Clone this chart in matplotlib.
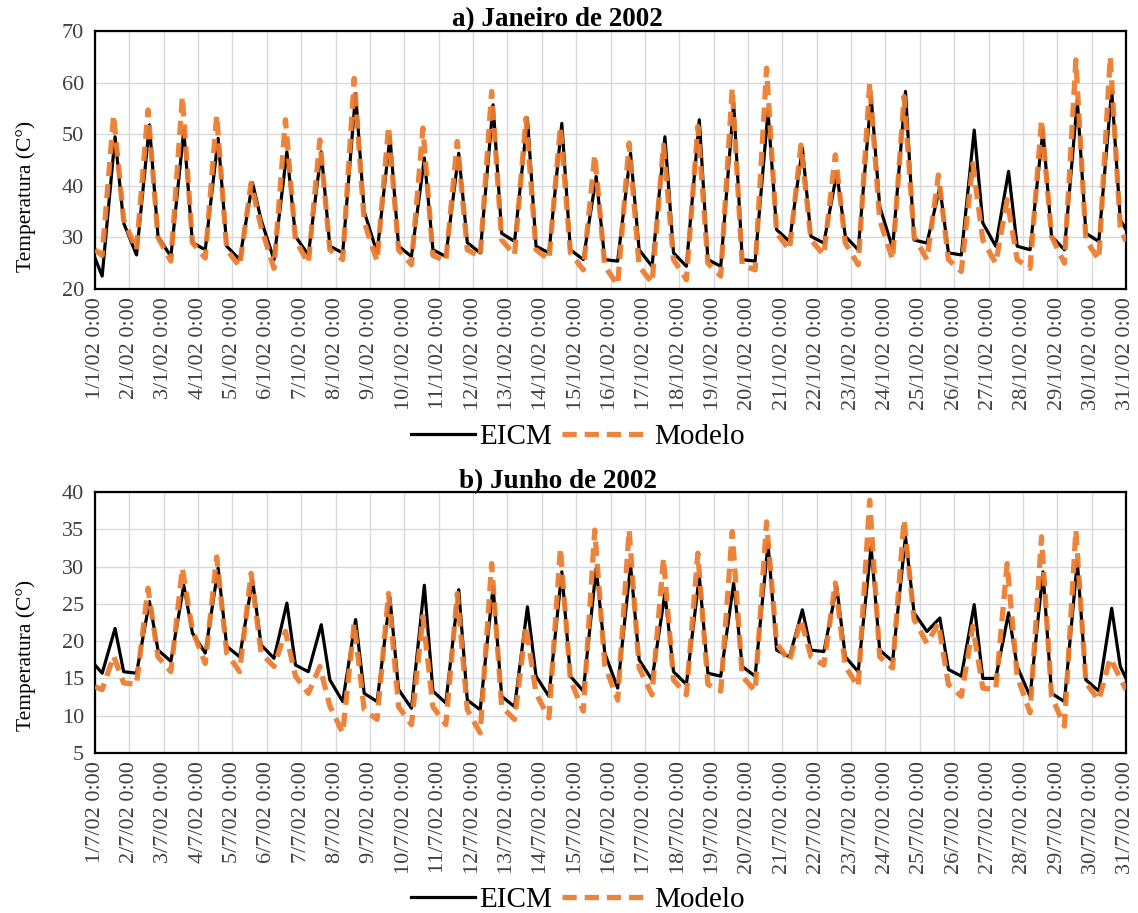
import matplotlib.pyplot as plt
import numpy as np

plt.rcParams['font.family'] = ['Liberation Serif', 'DejaVu Serif']

# Janeiro de 2002 - daily minimum (~05h), peak (~14h) and evening (~20h) values
jan_eicm_start = 26.0
jan_eicm_min = [22.5, 26.6, 26.3, 27.6, 25.7, 25.7, 26.6, 27.0, 27.0, 26.3,
                26.3, 27.0, 29.2, 27.0, 25.7, 25.4, 24.4, 24.4, 24.4, 25.4,
                29.2, 28.9, 27.6, 27.9, 28.9, 26.6, 28.3, 27.6, 27.6, 29.2]
jan_eicm_max = [49.5, 51.8, 50.8, 49.2, 40.6, 46.6, 46.6, 57.9, 49.5, 45.4,
                46.3, 55.7, 53.1, 52.1, 41.8, 46.3, 49.5, 52.8, 56.0, 54.4,
                47.3, 42.5, 57.3, 58.3, 39.7, 50.8, 42.8, 50.8, 56.6, 58.6]
jan_eicm_eve = [32.8, 30.2, 29.0, 28.3, 33.4, 30.2, 28.3, 35.0, 28.3, 27.6,
                29.0, 30.8, 28.3, 27.6, 25.7, 27.6, 27.0, 25.7, 25.7, 31.5,
                30.2, 30.2, 36.0, 29.5, 27.0, 32.8, 28.3, 30.2, 30.8, 33.4]
jan_eicm_end = 31.5

jan_mod_start = 27.6
jan_mod_min = [26.5, 27.6, 25.4, 26.0, 24.4, 24.0, 25.0, 25.7, 25.4, 24.7,
               25.4, 26.3, 26.6, 25.7, 23.7, 20.8, 21.2, 21.8, 22.5, 23.7,
               27.6, 26.6, 24.7, 25.7, 25.7, 23.4, 25.0, 24.0, 25.0, 25.7]
jan_mod_max = [53.7, 54.7, 57.3, 53.7, 40.5, 52.8, 48.9, 60.8, 51.5, 51.2,
               48.6, 58.3, 53.1, 51.5, 46.0, 48.3, 47.9, 51.5, 58.9, 62.8,
               47.9, 46.0, 59.9, 57.3, 42.1, 44.3, 37.3, 52.8, 64.4, 65.0]
jan_mod_eve = [33.4, 30.0, 29.0, 27.6, 32.0, 29.5, 27.6, 33.0, 27.6, 26.5,
               27.6, 29.5, 27.6, 27.0, 24.4, 24.4, 25.7, 25.0, 24.7, 30.8,
               29.5, 28.9, 33.4, 30.2, 25.7, 29.5, 25.7, 30.2, 29.5, 32.0]
jan_mod_end = 29.2

# Julho de 2002
jul_eicm_start = 16.8
jul_eicm_min = [15.7, 15.7, 17.3, 18.4, 17.9, 17.7, 15.9, 11.9, 11.9, 11.0,
                11.7, 10.8, 11.2, 12.6, 13.3, 13.7, 14.8, 14.2, 15.3, 15.3,
                17.9, 18.6, 15.9, 17.3, 21.3, 15.3, 15.0, 12.6, 11.9, 13.3]
jul_eicm_max = [21.7, 25.3, 27.5, 29.8, 28.2, 25.1, 22.2, 22.9, 25.8, 27.5,
                26.9, 27.3, 24.6, 29.3, 29.8, 30.2, 26.4, 28.7, 27.8, 33.1,
                24.2, 27.3, 32.7, 34.0, 23.1, 24.9, 23.8, 29.3, 30.7, 24.4]
jul_eicm_eve = [15.9, 18.8, 21.1, 19.3, 19.5, 16.8, 14.8, 13.0, 13.5, 13.3,
                12.1, 12.6, 15.3, 15.3, 18.4, 17.5, 15.9, 15.7, 16.6, 18.8,
                18.8, 17.9, 18.8, 23.8, 16.2, 15.0, 16.6, 13.0, 14.8, 16.6]
jul_eicm_end = 15.0

jul_mod_start = 13.9
jul_mod_min = [13.5, 14.2, 15.9, 17.0, 15.9, 16.6, 13.0, 7.7, 9.5, 8.8,
               8.8, 7.7, 9.5, 9.7, 10.6, 12.1, 12.8, 12.8, 13.3, 13.3,
               17.3, 16.8, 13.9, 16.4, 19.7, 12.6, 13.5, 10.4, 8.6, 12.1]
jul_mod_max = [18.0, 27.1, 29.8, 31.3, 29.1, 21.3, 16.6, 22.4, 26.4, 23.3,
               26.4, 30.4, 22.0, 32.5, 34.9, 34.9, 31.1, 31.8, 34.7, 36.0,
               22.9, 27.8, 38.9, 36.3, 22.4, 22.0, 30.4, 34.0, 34.9, 17.7]
jul_mod_eve = [14.4, 17.9, 21.5, 18.4, 18.4, 15.3, 11.3, 10.8, 11.2, 11.2,
               10.8, 11.2, 13.0, 14.8, 16.8, 16.4, 14.8, 14.2, 15.3, 19.7,
               17.9, 16.6, 17.9, 22.9, 14.2, 13.7, 15.3, 12.6, 14.4, 15.0]
jul_mod_end = 13.5

jan_labels = [f'{d}/1/02 0:00' for d in range(1, 32)]
jul_labels = [f'{d}/7/02 0:00' for d in range(1, 32)]


def day_series(start, tmin, tmax, teve, end, peak_hour):
    """Chain the daily readings into (time in days, temperature) pairs."""
    x, y = [0.0], [start]
    for d in range(len(tmin)):
        x += [d + 5 / 24, d + peak_hour / 24, d + 20 / 24]
        y += [tmin[d], tmax[d], teve[d]]
    x.append(float(len(tmin)))
    y.append(end)
    return np.array(x), np.array(y)


orange = '#ED7D31'
fig = plt.figure(figsize=(11.38, 9.13), dpi=100)
W, H = 1138, 913

panels = [
    dict(rect=[95 / W, 1 - 289 / H, 1031 / W, 258 / H],
         eicm=(jan_eicm_start, jan_eicm_min, jan_eicm_max, jan_eicm_eve, jan_eicm_end),
         mod=(jan_mod_start, jan_mod_min, jan_mod_max, jan_mod_eve, jan_mod_end),
         ylim=(20, 70), yticks=np.arange(20, 71, 10), labels=jan_labels,
         title='a) Janeiro de 2002', title_y=1 - 26 / H, leg_y=1 - 437 / H,
         ylab_y=0.36),
    dict(rect=[95 / W, 1 - 753 / H, 1031 / W, 261 / H],
         eicm=(jul_eicm_start, jul_eicm_min, jul_eicm_max, jul_eicm_eve, jul_eicm_end),
         mod=(jul_mod_start, jul_mod_min, jul_mod_max, jul_mod_eve, jul_mod_end),
         ylim=(5, 40), yticks=np.arange(5, 41, 5), labels=jul_labels,
         title='b) Junho de 2002', title_y=1 - 488 / H, leg_y=1 - 900 / H,
         ylab_y=0.375),
]

for p in panels:
    ax = fig.add_axes(p['rect'])
    xe, ye = day_series(*p['eicm'], peak_hour=14)
    xm, ym = day_series(*p['mod'], peak_hour=13)
    l1, = ax.plot(xe, ye, color='black', lw=2.3, label='EICM', zorder=3,
                  solid_joinstyle='round')
    l2, = ax.plot(xm, ym, color=orange, lw=3.8, dashes=(2.7, 1.5),
                  label='Modelo', zorder=4, alpha=0.95, dash_joinstyle='round')

    ax.set_xlim(0, 30)
    ax.set_ylim(*p['ylim'])
    ax.set_yticks(p['yticks'])
    ax.set_xticks(np.arange(31))
    ax.set_xticklabels(p['labels'], rotation=90)
    ax.tick_params(axis='both', length=0, colors='#404040', labelsize=16)
    ax.tick_params(axis='x', pad=6)
    ax.tick_params(axis='y', pad=8)
    ax.grid(True, color='#d9d9d9', lw=1)
    ax.set_axisbelow(True)
    for s in ax.spines.values():
        s.set_color('black')
        s.set_linewidth(1.6)

    ax.set_ylabel('Temperatura (C°)', fontsize=15.5, color='black')
    ax.yaxis.set_label_coords(-0.057, p['ylab_y'])

    fig.text(0.490, p['title_y'], p['title'], fontsize=19.5, fontweight='bold',
             ha='center', va='baseline')
    # separate legend entries so each handle keeps its own length
    fig.legend(handles=[l1], loc='center right',
               bbox_to_anchor=(552 / W, p['leg_y']), frameon=False,
               fontsize=21, handlelength=2.2, handletextpad=0.15,
               borderpad=0, borderaxespad=0)
    fig.legend(handles=[l2], loc='center left',
               bbox_to_anchor=(562 / W, p['leg_y']), frameon=False,
               fontsize=21, handlelength=3.0, handletextpad=0.15,
               borderpad=0, borderaxespad=0)

fig.savefig('out.png', dpi=100)
